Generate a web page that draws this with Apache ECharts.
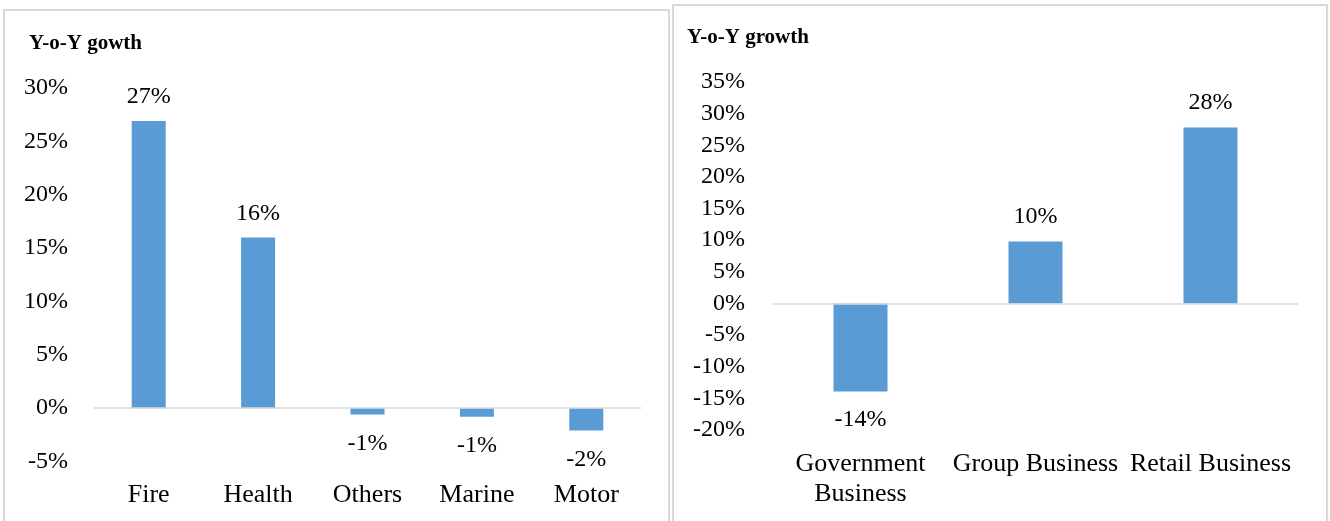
<!DOCTYPE html>
<html>
<head>
<meta charset="utf-8">
<script src="https://cdn.jsdelivr.net/npm/echarts@6/dist/echarts.min.js"></script>
<style>
  html, body { margin: 0; padding: 0; background: #fff; }
  #main { width: 1330px; height: 521px; }
</style>
</head>
<body>
<div id="main"></div>
<script>
// 左图：各险种同比增长
const lineCategories = ["Fire", "Health", "Others", "Marine", "Motor"];
const lineGrowth = [26.9, 16.0, -0.6, -0.8, -2.1];
const leftTicks = { min: -5, max: 30, step: 5 };

// 右图：各渠道同比增长
const channelCategories = ["Government Business", "Group Business", "Retail Business"];
const channelGrowth = [-13.9, 9.8, 27.8];
const rightTicks = { min: -20, max: 35, step: 5 };

const serif = "Liberation Serif, Times New Roman, serif";
const barColor = "#5b9bd5";
const borderColor = "#d9d9d9";

const chart = echarts.init(document.getElementById("main"));

// 正值标签在上方，负值标签在下方（和Excel一样）
const toBarData = (values, upGap, downGap) =>
  values.map((v) => ({
    value: v,
    label: { position: v < 0 ? "bottom" : "top", distance: v < 0 ? downGap : upGap },
  }));

const zeroLine = {
  silent: true,
  symbol: "none",
  label: { show: false },
  lineStyle: { color: borderColor, width: 1.5, type: "solid" },
  data: [{ yAxis: 0 }],
};

const valueAxis = (ticks, gridIndex, margin) => ({
  type: "value",
  gridIndex: gridIndex,
  min: ticks.min,
  max: ticks.max,
  interval: ticks.step,
  axisLine: { show: false },
  axisTick: { show: false },
  splitLine: { show: false },
  axisLabel: {
    formatter: "{value}%",
    color: "#000",
    fontFamily: serif,
    fontSize: 24,
    margin: margin,
    padding: [5, 0, 0, 0],
  },
});

const categoryAxis = (cats, gridIndex) => ({
  type: "category",
  gridIndex: gridIndex,
  data: cats,
  axisLine: { show: false, onZero: false },
  axisTick: { show: false },
  axisLabel: {
    color: "#000",
    fontFamily: serif,
    fontSize: 26,
    margin: 19,
    lineHeight: 30,
    interval: 0,
    formatter: (v) => (v === "Government Business" ? "Government\nBusiness" : v),
  },
});

const barLabel = {
  show: true,
  color: "#000",
  fontFamily: serif,
  fontSize: 24,
  formatter: (p) => Math.round(p.value) + "%",
};

const option = {
  backgroundColor: "#fff",
  animation: false,
  graphic: [
    {
      type: "rect",
      shape: { x: 4, y: 10, width: 665, height: 530 },
      style: { fill: "none", stroke: borderColor, lineWidth: 2 },
      silent: true,
    },
    {
      type: "rect",
      shape: { x: 673, y: 5, width: 654, height: 530 },
      style: { fill: "none", stroke: borderColor, lineWidth: 2 },
      silent: true,
    },
  ],
  title: [
    {
      text: "Y-o-Y gowth",
      left: 24,
      top: 28,
      textStyle: { fontFamily: serif, fontSize: 21, fontWeight: "bold", color: "#000" },
    },
    {
      text: "Y-o-Y growth",
      left: 682,
      top: 22,
      textStyle: { fontFamily: serif, fontSize: 21, fontWeight: "bold", color: "#000" },
    },
  ],
  grid: [
    { left: 94, right: 689, top: 88, bottom: 59.5 },
    { left: 773, right: 32, top: 82, bottom: 91 },
  ],
  xAxis: [categoryAxis(lineCategories, 0), categoryAxis(channelCategories, 1)],
  yAxis: [valueAxis(leftTicks, 0, 26), valueAxis(rightTicks, 1, 28)],
  series: [
    {
      type: "bar",
      xAxisIndex: 0,
      yAxisIndex: 0,
      barWidth: 34,
      itemStyle: { color: barColor },
      label: barLabel,
      data: toBarData(lineGrowth, 12, 17),
      markLine: zeroLine,
    },
    {
      type: "bar",
      xAxisIndex: 1,
      yAxisIndex: 1,
      barWidth: 54,
      itemStyle: { color: barColor },
      label: barLabel,
      data: toBarData(channelGrowth, 13, 16),
      markLine: zeroLine,
    },
  ],
};

chart.setOption(option);
</script>
</body>
</html>
